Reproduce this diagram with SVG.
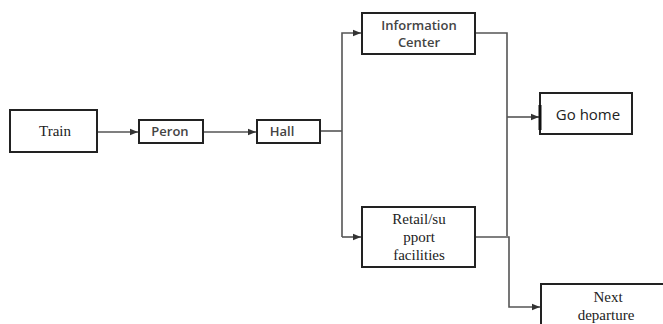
<svg xmlns="http://www.w3.org/2000/svg" width="663" height="324" viewBox="0 0 663 324">
<defs>
<marker id="ah" viewBox="0 0 10 10" refX="10" refY="5" markerWidth="8" markerHeight="8" markerUnits="userSpaceOnUse" orient="auto"><path d="M0,1 L10,5 L0,9 z" fill="#333"/></marker>
<style>
.box{fill:#fff;stroke:#222;stroke-width:2}
.ln{fill:none;stroke:#555;stroke-width:1.6}
.serif{font-family:"Times New Roman","Liberation Serif","DejaVu Serif",serif;font-size:15px;fill:#222;text-anchor:middle}
.sans{font-family:"Open Sans","Liberation Sans",sans-serif;font-size:13px;fill:#444;text-anchor:middle;font-weight:600}
</style>
</defs>
<rect width="663" height="324" fill="#fff"/>
<g id="connectors">
<path class="ln" d="M97,132 H138" marker-end="url(#ah)"/>
<path class="ln" d="M203,132 H256" marker-end="url(#ah)"/>
<path class="ln" d="M320,131 H342"/>
<path class="ln" d="M342,237 V33 H361" marker-end="url(#ah)"/>
<path class="ln" d="M342,237 H361" marker-end="url(#ah)"/>
<path class="ln" d="M475,33 H507 V236"/>
<path class="ln" d="M507,117 H539" marker-end="url(#ah)"/>
<path class="ln" d="M475,237 H509 V307 H540" marker-end="url(#ah)"/>
</g>
<g id="train"><rect class="box" x="10" y="110" width="87" height="42"/><text class="serif" x="55" y="136">Train</text></g>
<g id="retail"><rect class="box" x="362" y="207" width="113" height="60"/><text class="serif" x="419" y="224">Retail/su</text><text class="serif" x="419" y="242">pport</text><text class="serif" x="419" y="260">facilities</text></g>
<g id="next"><rect class="box" x="541" y="284" width="130" height="50"/><text class="serif" x="608" y="302">Next</text><text class="serif" x="606" y="320">departure</text></g>
<g id="peron"><rect class="box" x="139" y="120" width="64" height="23"/><text class="sans" x="170" y="136">Peron</text></g>
<g id="hall"><rect class="box" x="257" y="120" width="63" height="23"/><text class="sans" x="282" y="136">Hall</text></g>
<g id="info"><rect class="box" x="362" y="13" width="113" height="41"/><text class="sans" x="419" y="30">Information</text><text class="sans" x="419" y="47">Center</text></g>
<g id="gohome"><rect class="box" x="540" y="93" width="92" height="41"/><path d="M540,105 V130" stroke="#111" stroke-width="3"/><text x="588" y="120" font-family="'Open Sans','Liberation Sans',sans-serif" font-size="15" fill="#222" text-anchor="middle">Go home</text></g>
</svg>
